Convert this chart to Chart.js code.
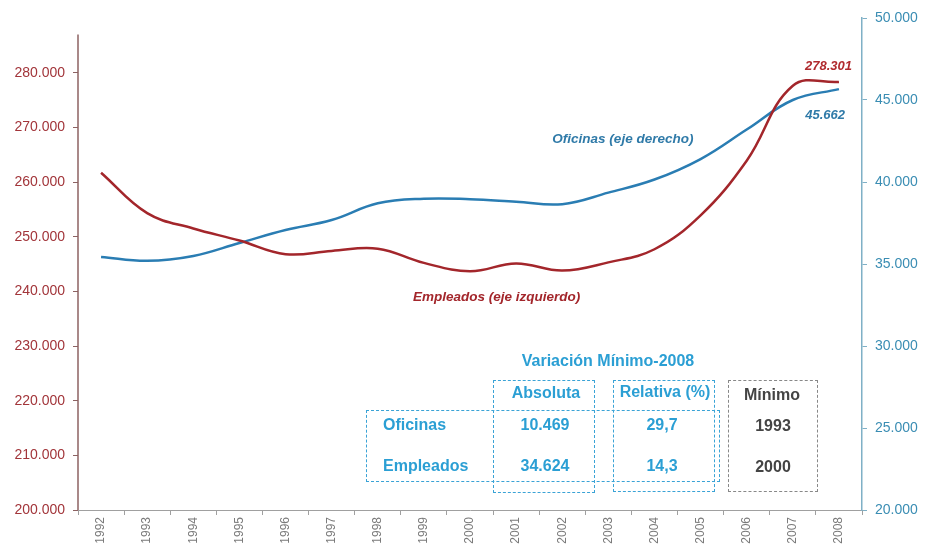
<!DOCTYPE html>
<html>
<head>
<meta charset="utf-8">
<script src="https://cdn.jsdelivr.net/npm/chart.js@4/dist/chart.umd.min.js"></script>
<style>
  body { margin: 0; background: #fff; }
  #wrap { position: relative; width: 926px; height: 554px; font-family: "Liberation Sans", Arial, sans-serif; }
  #chart { position: absolute; left: 0; top: 0; }
  .t { position: absolute; transform: translate(-50%, -50%); white-space: nowrap; font-weight: bold; font-size: 16px; }
  .box { position: absolute; border: 1px dashed #3aa3d6; box-sizing: border-box; }
</style>
</head>
<body>
<div id="wrap">
  <canvas id="chart" width="926" height="554"></canvas>
  <div id="table"></div>
</div>
<script>
const years = ["1992", "1993", "1994", "1995", "1996", "1997", "1998", "1999", "2000",
  "2001", "2002", "2003", "2004", "2005", "2006", "2007", "2008"];
// employees, left axis
const empleados = [261700, 254300, 251500, 249300, 246800, 247400, 247800, 245200, 243677,
  245100, 243800, 245300, 247700, 253900, 263900, 277600, 278301];
// offices, right axis
const oficinas = [35430, 35193, 35490, 36280, 37070, 37680, 38700, 38980, 38950,
  38800, 38650, 39350, 40150, 41400, 43200, 45000, 45662];

const tableTitle = "Variación Mínimo-2008";
const tableHeads = ["Absoluta", "Relativa (%)", "Mínimo"];
const tableRows = ["Oficinas", "Empleados"];
const tableAbs = ["10.469", "34.624"];
const tableRel = ["29,7", "14,3"];
const tableMin = ["1993", "2000"];

const RED = "#a3262b";
const BLUE = "#2a7db3";
const FONT = "'Liberation Sans', Arial, sans-serif";

const fmt = v => String(v).replace(/\B(?=(\d{3})+(?!\d))/g, ".");

// annotations + left axis line (it stops below the top of the chart)
const extras = {
  id: "extras",
  afterDraw(chart) {
    const { ctx } = chart;
    const x = chart.scales.x, yl = chart.scales.y, yr = chart.scales.y1;
    ctx.save();
    ctx.strokeStyle = "#8c6262";
    ctx.lineWidth = 1.5;
    ctx.beginPath();
    ctx.moveTo(yl.right, yl.getPixelForValue(287000));
    ctx.lineTo(yl.right, chart.chartArea.bottom);
    ctx.stroke();

    const last = years.length - 1;
    const ex = x.getPixelForValue(last);
    ctx.font = "italic bold 13px " + FONT;
    ctx.textBaseline = "middle";
    ctx.textAlign = "right";
    ctx.fillStyle = "#b02a2e";
    ctx.fillText(fmt(empleados[last]), ex + 13, yl.getPixelForValue(empleados[last]) - 16);
    ctx.fillStyle = "#2f7aa8";
    ctx.fillText(fmt(oficinas[last]), ex + 6, yr.getPixelForValue(oficinas[last]) + 26);

    ctx.font = "italic bold 13.5px " + FONT;
    ctx.textAlign = "left";
    ctx.fillStyle = "#2f7aa8";
    ctx.fillText("Oficinas (eje derecho)", x.getPixelForValue(11) - 56, yr.getPixelForValue(42600));
    ctx.fillStyle = "#a3262b";
    ctx.fillText("Empleados (eje izquierdo)", x.getPixelForValue(7) - 11, yl.getPixelForValue(238900));
    ctx.restore();
  }
};

new Chart(document.getElementById("chart"), {
  type: "line",
  data: {
    labels: years,
    datasets: [
      { label: "Empleados", data: empleados, yAxisID: "y", borderColor: RED, borderWidth: 2.5, pointRadius: 0, tension: 0.4 },
      { label: "Oficinas", data: oficinas, yAxisID: "y1", borderColor: BLUE, borderWidth: 2.5, pointRadius: 0, tension: 0.4 }
    ]
  },
  options: {
    responsive: false,
    animation: false,
    devicePixelRatio: 1,
    layout: { padding: { top: 18, left: 0, right: 0, bottom: 0 } },
    plugins: { legend: { display: false }, tooltip: { enabled: false } },
    scales: {
      x: {
        offset: true,
        grid: { drawOnChartArea: false, offset: true, tickLength: 5, color: "#a0a0a0" },
        border: { color: "#a0a0a0" },
        ticks: { minRotation: 90, maxRotation: 90, padding: 2, color: "#7a7a7a", font: { family: FONT, size: 12 } },
        afterFit(s) { s.height = 44; }
      },
      y: {
        position: "left",
        min: 200000,
        max: 290000,
        afterBuildTicks(s) { s.ticks = s.ticks.filter(t => t.value < 290000); },
        ticks: { stepSize: 10000, callback: fmt, padding: 8, color: "#a2353a", font: { family: FONT, size: 14 } },
        grid: { drawOnChartArea: false, tickLength: 5, color: "#8c6262" },
        border: { display: false },
        afterFit(s) { s.width = 78; }
      },
      y1: {
        position: "right",
        min: 20000,
        max: 50000,
        ticks: { stepSize: 5000, callback: fmt, padding: 8, color: "#3a8db3", font: { family: FONT, size: 14 } },
        grid: { drawOnChartArea: false, tickLength: 5, color: "#7fb0c6" },
        border: { color: "#7fb0c6", width: 1.5 },
        afterFit(s) { s.width = 64; }
      }
    }
  },
  plugins: [extras]
});

// summary table
const tbl = document.getElementById("table");
function box(l, t, w, h, color) {
  const d = document.createElement("div");
  d.className = "box";
  Object.assign(d.style, { left: l + "px", top: t + "px", width: w + "px", height: h + "px" });
  if (color) d.style.borderColor = color;
  tbl.appendChild(d);
}
function txt(s, cx, cy, color, left) {
  const d = document.createElement("div");
  d.className = "t";
  d.textContent = s;
  d.style.left = cx + "px";
  d.style.top = cy + "px";
  d.style.color = color;
  if (left) d.style.transform = "translate(0, -50%)";
  tbl.appendChild(d);
}
const TB = "#2b9fd4", GR = "#444";
box(493, 380, 102, 113);
box(613, 380, 102, 112);
box(728, 380, 90, 112, "#888");
box(366, 410, 354, 72);
txt(tableTitle, 608, 361, TB);
txt(tableHeads[0], 546, 393, TB);
txt(tableHeads[1], 665, 392, TB);
txt(tableHeads[2], 772, 395, GR);
const rowY = [425, 466];
tableRows.forEach((r, i) => {
  txt(r, 383, rowY[i], TB, true);
  txt(tableAbs[i], 545, rowY[i], TB);
  txt(tableRel[i], 662, rowY[i], TB);
  txt(tableMin[i], 773, rowY[i] + 1, GR);
});
</script>
</body>
</html>
